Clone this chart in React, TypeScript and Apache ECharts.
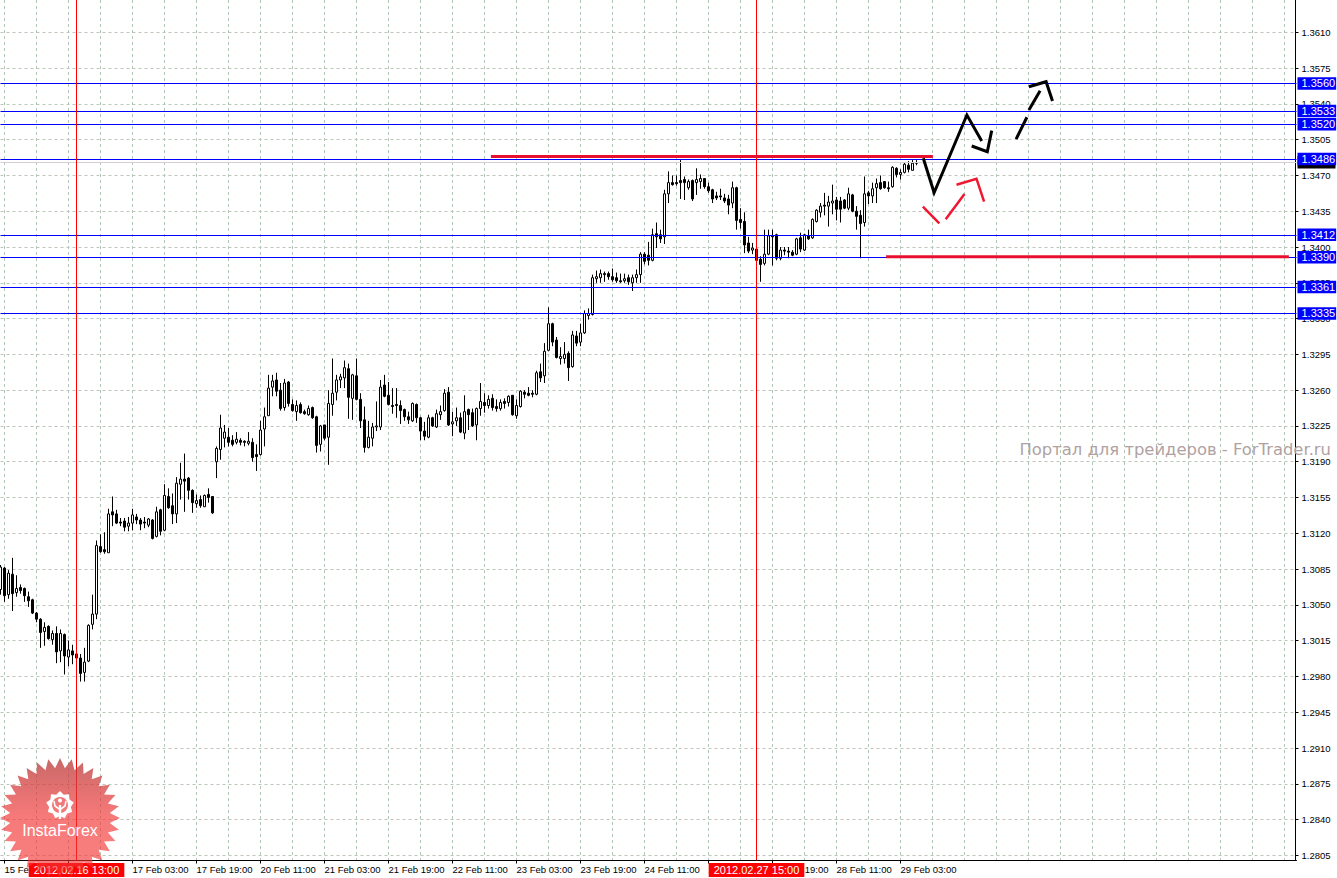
import React, { useEffect, useRef } from "react";
import * as echarts from "echarts";

// Price is 1 + value / 10000. Each row: [open, close, low, high]
const feb15to17: number[][] = [
  [3065,3087,3060,3089],[3086,3059,3053,3087],[3060,3081,3056,3084],[3080,3061,3044,3096],[3062,3066,3058,3079],
  [3067,3064,3061,3070],[3066,3059,3053,3067],[3058,3054,3048,3063],[3055,3042,3041,3056],[3042,3036,3033,3043],
  [3036,3023,3008,3037],[3024,3028,3010,3033],[3029,3017,3016,3030],[3016,3022,3011,3025],[3022,3004,2993,3029],
  [3005,3022,2994,3026],[3021,3000,2982,3022],[2999,3006,2990,3015],[3005,3001,2992,3011],[3002,2998,2991,3007],
  [2998,2983,2975,3002],[2984,2994,2975,3008],[2995,3030,2994,3031],[3031,3041,3026,3060],[3041,3108,3036,3113],
  [3107,3102,3101,3119],[3104,3102,3100,3121],[3101,3139,3101,3144],[3141,3138,3127,3156],[3139,3130,3129,3143],
  [3131,3130,3127,3135],[3132,3126,3122,3135],[3127,3130,3122,3136],[3130,3138,3123,3144],[3136,3133,3129,3139],
  [3133,3129,3123,3135],[3131,3130,3125,3136],[3128,3134,3126,3135],[3133,3115,3114,3134],[3117,3141,3116,3146],
  [3143,3122,3118,3144],[3123,3157,3122,3168],[3156,3145,3144,3164],[3147,3139,3129,3159],[3139,3169,3130,3175],
  [3168,3173,3153,3189],[3173,3171,3141,3198],[3174,3162,3153,3175],[3162,3150,3140,3163],[3149,3152,3145,3158],
  [3153,3147,3145,3157],[3146,3157,3146,3158],[3158,3155,3150,3164],[3156,3140,3139,3156],
];
const feb20to22: number[][] = [
  [3190,3203,3174,3205],[3202,3223,3192,3236],[3213,3219,3204,3226],[3214,3209,3205,3223],
  [3211,3207,3205,3216],[3209,3212,3207,3219],[3211,3209,3206,3213],[3210,3209,3205,3211],[3208,3210,3206,3219],
  [3209,3194,3190,3213],[3197,3195,3181,3207],[3197,3221,3196,3230],[3222,3234,3205,3243],[3235,3262,3235,3275],
  [3263,3269,3254,3275],[3270,3259,3254,3277],[3260,3242,3240,3267],[3243,3267,3240,3271],[3268,3247,3244,3269],
  [3246,3240,3239,3251],[3239,3245,3230,3250],[3246,3238,3237,3248],[3239,3237,3236,3241],[3236,3242,3235,3245],
  [3243,3233,3232,3244],[3234,3206,3199,3235],[3207,3225,3200,3226],[3226,3213,3211,3226],[3214,3247,3187,3260],
  [3246,3257,3235,3291],[3258,3270,3250,3275],[3270,3273,3262,3276],[3272,3282,3262,3289],[3281,3253,3232,3286],
  [3252,3275,3231,3276],[3274,3251,3250,3291],[3251,3230,3223,3257],[3231,3204,3199,3244],[3204,3214,3203,3230],
  [3213,3224,3205,3228],[3224,3225,3220,3249],[3224,3263,3221,3270],[3265,3254,3253,3275],[3255,3246,3245,3268],
  [3245,3244,3237,3262],[3246,3245,3233,3262],[3245,3240,3227,3250],[3241,3234,3230,3242],[3234,3231,3227,3239],
  [3230,3247,3229,3248],[3246,3233,3228,3247],[3233,3220,3211,3234],[3220,3215,3211,3229],[3214,3233,3213,3236],
  [3233,3225,3224,3234],[3224,3237,3223,3241],[3236,3239,3231,3245],[3240,3257,3239,3261],[3258,3226,3225,3263],
];
const feb22to24: number[][] = [
  [3227,3229,3215,3239],[3230,3233,3225,3243],[3233,3219,3218,3238],[3218,3239,3212,3255],[3241,3236,3221,3242],
  [3238,3225,3224,3242],[3226,3242,3211,3243],[3242,3249,3235,3267],[3248,3245,3238,3257],[3245,3251,3242,3255],
  [3252,3243,3240,3256],[3244,3242,3239,3251],[3242,3248,3240,3251],[3249,3247,3242,3252],[3248,3254,3244,3255],
  [3255,3236,3235,3255],[3235,3245,3232,3251],[3244,3259,3243,3260],[3258,3256,3252,3260],[3257,3255,3254,3263],
  [3257,3256,3253,3260],[3256,3277,3255,3279],[3278,3272,3268,3286],[3274,3298,3267,3306],[3299,3325,3298,3341],
  [3325,3307,3303,3326],[3309,3292,3291,3312],[3291,3293,3285,3302],[3291,3295,3286,3307],[3296,3282,3269,3298],
  [3283,3314,3282,3318],[3313,3306,3303,3318],[3307,3316,3303,3325],[3316,3335,3315,3338],[3333,3335,3329,3340],
  [3334,3370,3333,3373],[3369,3371,3365,3377],[3370,3374,3365,3378],[3374,3373,3366,3376],[3374,3371,3368,3376],
  [3371,3368,3366,3379],[3370,3367,3365,3375],[3367,3366,3365,3374],[3367,3369,3365,3374],[3370,3366,3363,3373],
  [3365,3370,3357,3373],[3370,3373,3365,3378],
];
const feb24to29: number[][] = [
  [3373,3393,3365,3395],[3393,3386,3383,3395],[3392,3387,3382,3405],[3387,3412,3386,3418],[3413,3410,3399,3424],
  [3412,3408,3404,3417],[3410,3452,3403,3456],[3452,3463,3443,3474],[3463,3461,3460,3470],[3463,3462,3460,3470],
  [3465,3463,3447,3485],[3466,3463,3446,3469],[3458,3464,3456,3466],[3465,3447,3445,3466],[3463,3466,3451,3477],
  [3464,3467,3457,3471],[3467,3459,3457,3467],[3459,3455,3453,3463],[3456,3447,3443,3457],[3450,3448,3446,3454],
  [3450,3449,3446,3457],[3448,3445,3443,3452],[3447,3441,3432,3451],[3443,3458,3438,3464],[3458,3426,3417,3459],
  [3427,3424,3418,3438],[3425,3402,3394,3434],[3404,3396,3394,3410],[3397,3399,3393,3404],[3398,3387,3377,3404],
  [3388,3383,3366,3391],[3384,3393,3382,3417],[3393,3411,3392,3417],[3411,3410,3382,3417],[3412,3389,3387,3413],
  [3389,3397,3387,3400],[3397,3396,3392,3400],[3396,3395,3389,3400],[3395,3392,3391,3397],[3393,3408,3392,3409],
  [3409,3398,3395,3414],[3397,3412,3396,3413],[3411,3408,3407,3417],[3409,3427,3408,3428],[3425,3436,3424,3437],
  [3434,3440,3429,3443],[3441,3440,3431,3453],[3440,3444,3420,3450],[3443,3445,3432,3461],[3446,3437,3426,3449],
  [3445,3437,3424,3449],[3446,3438,3437,3447],[3438,3452,3436,3458],[3451,3435,3434,3452],[3435,3430,3417,3440],
  [3431,3423,3389,3436],[3424,3452,3420,3469],[3453,3450,3442,3455],[3450,3457,3443,3463],[3458,3462,3443,3467],
  [3463,3457,3456,3470],[3464,3458,3457,3464],[3458,3457,3454,3464],[3459,3478,3458,3479],[3477,3471,3468,3478],
  [3471,3473,3466,3476],[3473,3481,3472,3483],[3480,3476,3473,3484],[3475,3482,3475,3485],[3482,3482,3480,3485],
];

const priceTicks = [
  1.361,1.3575,1.354,1.3505,1.347,1.3435,1.34,1.3365,1.333,1.3295,1.326,1.3225,
  1.319,1.3155,1.312,1.3085,1.305,1.3015,1.298,1.2945,1.291,1.2875,1.284,1.2805,
];
const timeLabels = [
  "15 Feb 19:00","16 Feb 11:00","17 Feb 03:00","17 Feb 19:00","20 Feb 11:00","21 Feb 03:00","21 Feb 19:00",
  "22 Feb 11:00","23 Feb 03:00","23 Feb 19:00","24 Feb 11:00","27 Feb 03:00","27 Feb 19:00","28 Feb 11:00","29 Feb 03:00",
];
const levelPrices = [1.356,1.3533,1.352,1.3486,1.3412,1.339,1.3361,1.3335];
const bidPrice = 1.3483;
const markedBars = [
  { index: 19, label: "2012.02.16 13:00" },
  { index: 189, label: "2012.02.27 15:00" },
];
// Hand-drawn strokes: [bar position, price as 1 + value / 10000]
const blackStrokes: number[][][] = [
  [[230.7,3486.8],[233.4,3453.1],[241.6,3529.1],[245.3,3503.7]],
  [[242.8,3498.8],[246.7,3493.2],[247.8,3513.8]],
  [[253.9,3505.6],[256.6,3526.9]],
  [[257.1,3534],[259.9,3552.9]],
  [[257.1,3556.8],[261.4,3561.7],[263,3542.8]],
];
const redStrokes: number[][][] = [
  [[230.6,3439.4],[234.7,3423.2]],
  [[236.3,3427.1],[241,3451.8]],
  [[239,3460.9],[244,3466.8],[245.9,3444.3]],
];
const redLevels: number[][][] = [
  [[122.6,3488.5],[233.1,3488.5]],
  [[221.4,3390.5],[322.1,3390.5]],
];
const SLOT_COUNT = 325;

const toPrice = (v: number) => 1 + v / 10000;
const candles = [...feb15to17, ...feb20to22, ...feb22to24, ...feb24to29].map((r) => r.map(toPrice));
const categories = Array.from({ length: SLOT_COUNT }, (_, k) =>
  (k - 1) % 16 === 0 ? timeLabels[(k - 1) / 16] ?? "" : ""
);
const hasTimeLabel = (k: number) => (k - 1) % 16 === 0 && k <= 225;
const strokeSeries = (strokes: number[][][], color: string, width: number) =>
  strokes.map((s) => ({
    type: "line",
    xAxisIndex: 1,
    yAxisIndex: 0,
    z: 5,
    symbol: "none",
    silent: true,
    lineStyle: { color, width, cap: "butt", join: "miter" },
    data: s.map(([k, v]) => [k, toPrice(v)]),
  }));

const burst = (cx: number, cy: number, outer: number, inner: number, n: number) => {
  const pts: number[][] = [];
  for (let i = 0; i < n * 2; i++) {
    const r = i % 2 === 0 ? outer : inner;
    const a = (Math.PI * i) / n - Math.PI / 2;
    pts.push([cx + r * Math.cos(a), cy + r * Math.sin(a)]);
  }
  return pts;
};

const FONT = "'Liberation Sans', sans-serif";

export default function App() {
  const ref = useRef<HTMLDivElement>(null);
  useEffect(() => {
    document.body.style.margin = "0";
    document.body.style.background = "#fff";
    const chart = echarts.init(ref.current!, undefined, { renderer: "svg" });
    const levelLabel = {
      show: true,
      position: "end",
      distance: 1,
      color: "#fff",
      backgroundColor: "#0000ff",
      fontFamily: FONT,
      fontSize: 11,
      lineHeight: 12.5,
      padding: [0, 1, 0, 4],
      formatter: (p: any) => Number(p.value).toFixed(4),
    };
    chart.setOption({
      animation: false,
      backgroundColor: "#fff",
      grid: { left: 0.5, top: 0, width: 1296, height: 860.5 },
      xAxis: [
        {
          type: "category",
          data: categories,
          boundaryGap: false,
          axisLine: { onZero: false, lineStyle: { color: "#000", width: 1 } },
          axisTick: { length: 3, lineStyle: { color: "#000" }, interval: (i: number) => hasTimeLabel(i) },
          axisLabel: {
            color: "#000",
            fontFamily: FONT,
            fontSize: 9.5,
            align: "left",
            margin: 4,
            interval: (i: number) => hasTimeLabel(i),
            hideOverlap: false,
          },
          splitLine: {
            show: true,
            interval: (i: number) => (i - 1) % 8 === 0,
            lineStyle: { color: "#b2c8b7", type: [3, 3], width: 1 },
          },
        },
        { type: "value", min: 0, max: SLOT_COUNT - 1, show: false, splitLine: { show: false } },
      ],
      yAxis: {
        type: "value",
        position: "right",
        offset: -1,
        min: 1.28,
        max: 1.36416,
        axisLine: { show: true, onZero: false, lineStyle: { color: "#000", width: 1 } },
        axisTick: { show: true, length: 3, customValues: priceTicks, lineStyle: { color: "#000" } },
        axisLabel: {
          color: "#000",
          fontFamily: FONT,
          fontSize: 9.5,
          margin: 6,
          padding: [0, 0, 4, 0],
          customValues: priceTicks,
          formatter: (v: number) => v.toFixed(4),
        },
        splitLine: { show: true, lineStyle: { color: "#bec6bc", type: [3, 3], width: 1 } },
      },
      series: [
        {
          type: "line",
          z: 1,
          silent: true,
          data: [],
          markLine: {
            silent: true,
            symbol: "none",
            precision: 4,
            animation: false,
            data: [
              {
                yAxis: bidPrice,
                lineStyle: { color: "#d6ced2", width: 1, type: "solid" },
                label: {
                  show: true,
                  position: "end",
                  distance: 1,
                  backgroundColor: "#000",
                  fontSize: 10.5,
                  lineHeight: 12.5,
                  width: 38,
                  formatter: () => " ",
                },
              },
              ...levelPrices.map((p) => ({
                yAxis: p,
                lineStyle: { color: "#0000ff", width: 1, type: "solid" },
                label: levelLabel,
              })),
              ...markedBars.map((m) => ({
                xAxis: m.index,
                lineStyle: { color: "#ff0000", width: 1, type: "solid" },
                label: {
                  show: true,
                  position: "start",
                  distance: 2.5,
                  color: "#fff",
                  backgroundColor: "#ff0000",
                  fontFamily: FONT,
                  fontSize: 11,
                  lineHeight: 14,
                  padding: [0, 5, 0, 5],
                  formatter: () => m.label,
                },
              })),
            ],
          },
        },
        {
          type: "candlestick",
          z: 3,
          silent: true,
          barWidth: 3,
          data: candles,
          itemStyle: {
            color: "#ffffff",
            color0: "#000000",
            borderColor: "#000000",
            borderColor0: "#000000",
            borderWidth: 1,
          },
        },
        ...strokeSeries(redLevels, "#e8102e", 3),
        ...strokeSeries(blackStrokes, "#000000", 3),
        ...strokeSeries(redStrokes, "#f01830", 2.5),
      ],
      graphic: [
        {
          type: "text",
          z: 50,
          silent: true,
          x: 1331,
          y: 449,
          style: {
            text: "Портал для трейдеров - ForTrader.ru",
            fill: "#b0a2a2",
            font: "16.4px 'DejaVu Sans', sans-serif",
            align: "right",
            verticalAlign: "middle",
          },
        },
        {
          type: "polygon",
          z: 60,
          silent: true,
          shape: { points: burst(60, 818, 60, 50, 32) },
          style: {
            fill: {
              type: "linear",
              x: 0,
              y: 0,
              x2: 0,
              y2: 1,
              colorStops: [
                { offset: 0, color: "rgba(186,67,67,0.8)" },
                { offset: 0.5, color: "rgba(243,50,50,0.65)" },
                { offset: 1, color: "rgba(243,50,50,0.62)" },
              ],
            },
          },
        },
        {
          type: "polygon",
          z: 61,
          silent: true,
          shape: { points: burst(60, 805, 14, 11, 9) },
          style: { fill: "#fff" },
        },
        { type: "circle", z: 62, silent: true, shape: { cx: 60, cy: 805, r: 8 }, style: { fill: "#ef7a78" } },
        { type: "circle", z: 63, silent: true, shape: { cx: 60, cy: 800.5, r: 2 }, style: { fill: "#fff" } },
        { type: "rect", z: 63, silent: true, shape: { x: 58.8, y: 805, width: 2.4, height: 14 }, style: { fill: "#fff" } },
        {
          type: "polyline",
          z: 63,
          silent: true,
          shape: { points: [[54, 801], [55, 806], [59, 809], [61, 809], [65, 806], [66, 801]] },
          style: { stroke: "#fff", lineWidth: 1.6, fill: "none" },
        },
        {
          type: "text",
          z: 64,
          silent: true,
          x: 60,
          y: 830,
          style: {
            text: "InstaForex",
            fill: "#fff",
            font: "16px 'Liberation Sans', sans-serif",
            align: "center",
            verticalAlign: "middle",
          },
        },
      ],
    });
    return () => chart.dispose();
  }, []);
  return <div ref={ref} style={{ width: 1337, height: 878 }} />;
}
